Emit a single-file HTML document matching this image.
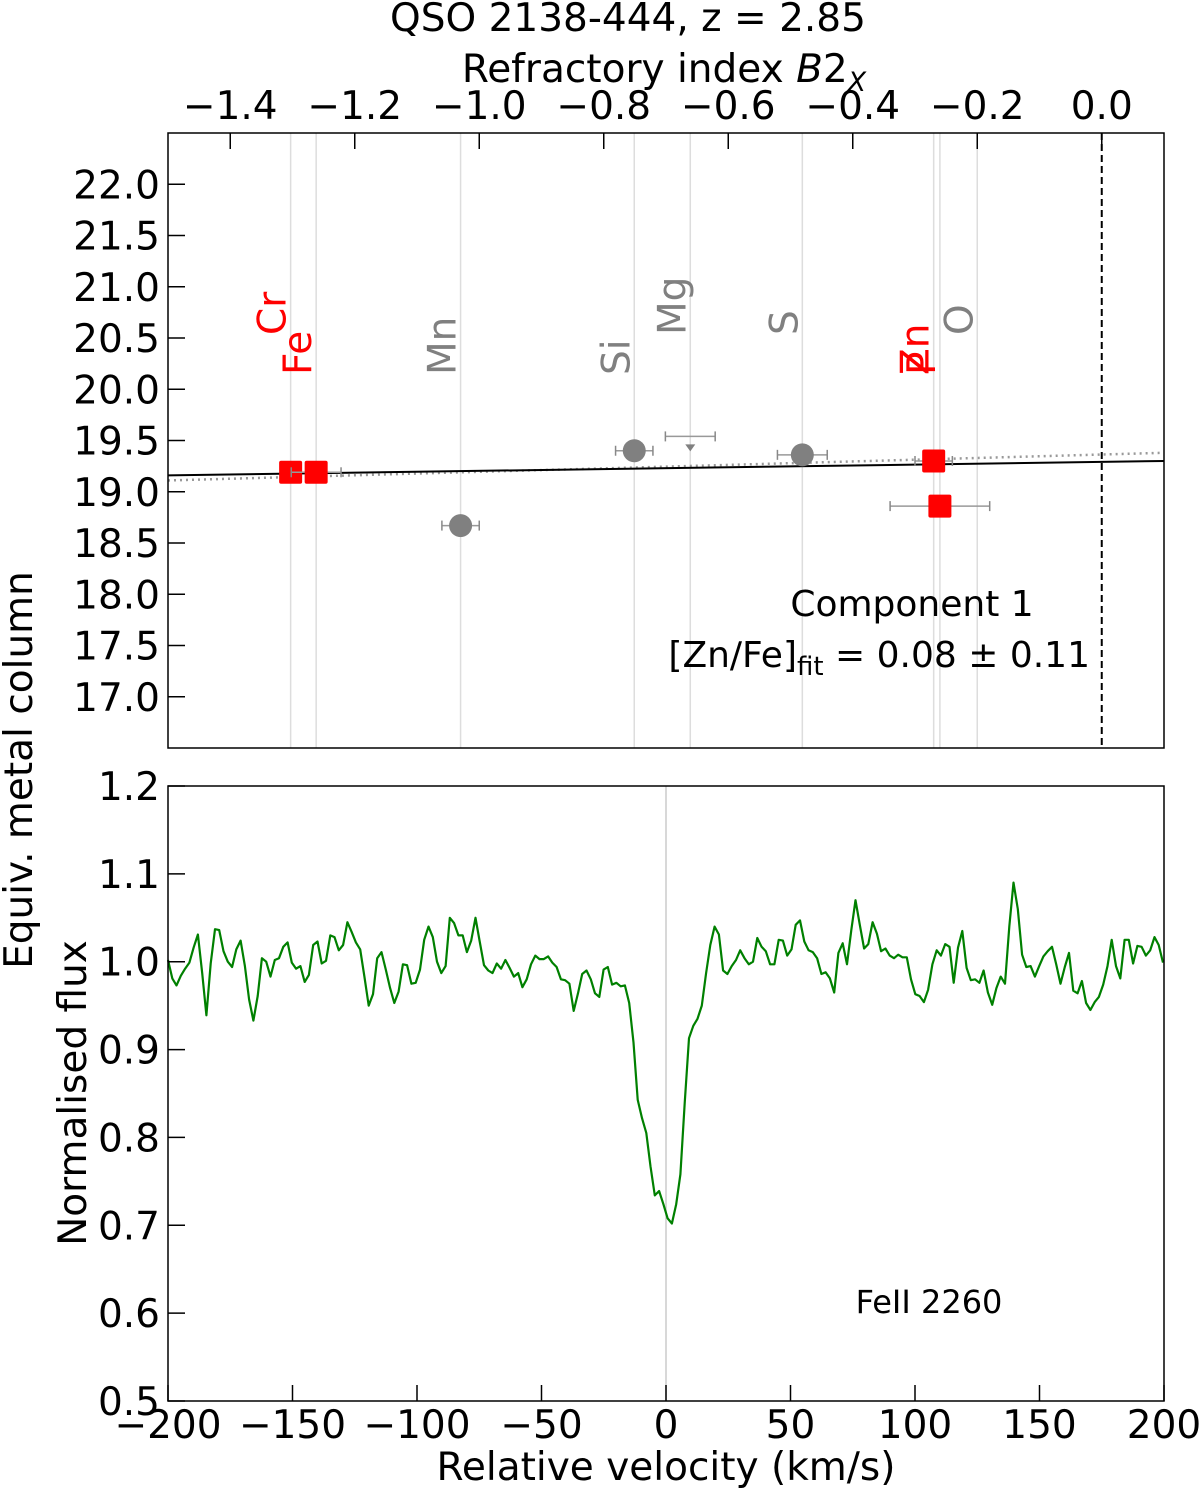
<!DOCTYPE html>
<html><head><meta charset="utf-8"><style>
html,body{margin:0;padding:0;background:#fff;}
svg{display:block;font-family:"DejaVu Sans","Liberation Sans",sans-serif;}
</style></head><body>
<svg id="chart" width="1200" height="1490" viewBox="0 0 1200 1490" xmlns="http://www.w3.org/2000/svg">
<text x="628" y="31" font-size="39" text-anchor="middle">QSO 2138-444, z = 2.85</text>
<text x="664" y="82" font-size="39" text-anchor="middle">Refractory index <tspan font-style="italic">B</tspan>2<tspan font-style="italic" font-size="27" dy="9">X</tspan></text>
<text transform="translate(32,770) rotate(-90)" font-size="39" text-anchor="middle">Equiv. metal column</text>
<text transform="translate(86,1093) rotate(-90)" font-size="39" text-anchor="middle">Normalised flux</text>
<text x="666" y="1480" font-size="39" text-anchor="middle">Relative velocity (km/s)</text>
<g id="topPanel"></g>
<g id="botPanel"></g>
</svg>
<script>
const NS="http://www.w3.org/2000/svg";
// ---- top panel data ----
const elements=["Cr","Fe","Mn","Si","Mg","S","Zn","P","O"];
const b2x=[-1.303,-1.262,-1.03,-0.751,-0.661,-0.481,-0.27,-0.26,-0.2];
const labelColors=["red","red","gray","gray","gray","gray","red","red","gray"];
const labelRow=[1,0,0,0,1,1,0,0,1];
const pointNames=["Cr","Fe","Mn","Si","Mg","S","Zn","P"];
const pointB2x=[-1.303,-1.262,-1.03,-0.751,-0.661,-0.481,-0.27,-0.26];
const pointN=[19.19,19.19,18.67,19.40,19.54,19.36,19.30,18.86];
const pointXerr=[0.0,0.04,0.03,0.03,0.04,0.04,0.03,0.08];
const pointKind=["square","square","circle","circle","limit","circle","square","square"];
const topXTicks=[-1.4,-1.2,-1.0,-0.8,-0.6,-0.4,-0.2,0.0];
const topYTicks=[17.0,17.5,18.0,18.5,19.0,19.5,20.0,20.5,21.0,21.5,22.0];
const fitLine=[[-1.5,19.16],[0.1,19.30]];
const dotLine=[[-1.5,19.11],[0.1,19.38]];
// ---- bottom panel data ----
const vStart=-200, vStep=1.715;
const flux=[1.002,0.981,0.973,0.984,0.992,0.999,1.016,1.031,0.987,0.939,0.998,1.037,1.036,1.012,1.000,0.994,1.014,1.024,0.995,0.957,0.933,0.961,1.004,1.000,0.983,1.002,1.004,1.017,1.022,0.999,0.992,0.995,0.977,0.985,1.019,1.023,0.998,1.001,1.030,1.028,1.013,1.019,1.045,1.034,1.022,1.014,0.983,0.950,0.963,1.004,1.011,0.991,0.970,0.953,0.966,0.997,0.996,0.975,0.976,0.991,1.025,1.040,1.028,1.000,0.987,0.995,1.050,1.044,1.030,1.030,1.011,1.024,1.050,1.023,0.996,0.990,0.987,0.998,0.992,1.002,
0.993,0.983,0.987,0.971,0.980,0.997,1.007,1.003,1.003,1.006,0.999,0.994,0.980,0.979,0.975,0.944,0.964,0.986,0.990,0.980,0.964,0.960,0.991,0.994,0.974,0.976,0.972,0.973,0.953,0.908,0.843,0.822,0.805,0.767,0.734,0.739,0.724,0.708,0.702,0.724,0.758,0.839,0.913,0.927,0.935,0.950,0.987,1.019,1.040,1.031,0.990,0.986,0.995,1.002,1.013,1.004,0.997,1.000,1.027,1.017,1.012,0.997,0.997,1.025,1.024,1.007,1.014,1.042,1.047,1.023,1.013,1.011,1.004,0.986,0.988,0.981,0.965,1.010,
1.021,0.997,1.036,1.070,1.042,1.015,1.020,1.045,1.032,1.012,1.015,1.007,1.004,1.008,1.005,1.005,0.980,0.963,0.961,0.954,0.968,0.997,1.013,1.007,1.020,1.017,0.976,1.016,1.035,0.993,0.979,0.980,0.976,0.990,0.965,0.951,0.970,0.983,0.975,1.040,1.090,1.060,1.008,0.994,0.995,0.983,0.995,1.006,1.012,1.017,0.997,0.975,0.994,1.010,0.967,0.964,0.978,0.953,0.945,0.954,0.960,0.974,0.995,1.025,0.995,0.981,1.025,1.025,0.998,1.018,1.017,1.007,1.013,1.028,1.019,0.999];
const botXTicks=[-200,-150,-100,-50,0,50,100,150,200];
const botYTicks=[0.5,0.6,0.7,0.8,0.9,1.0,1.1,1.2];
const lineLabel="FeII 2260";

function mk(parent,tag,attrs,txt){const e=document.createElementNS(NS,tag);for(const k in attrs)e.setAttribute(k,attrs[k]);if(txt!==undefined)e.textContent=txt;parent.appendChild(e);return e;}
const FS=39;
// top axes
const T={l:168,r:1164,t:133,b:748};
const tx=v=>T.l+(v-(-1.5))/(0.1-(-1.5))*(T.r-T.l);
const ty=v=>T.b-(v-16.5)/(22.5-16.5)*(T.b-T.t);
const topG=document.getElementById('topPanel');
elements.forEach((el,i)=>{
  const l=mk(topG,'line',{x1:tx(b2x[i]),x2:tx(b2x[i]),y1:T.t,y2:T.b,stroke:'#ddd','stroke-width':1.5});
  
  
  const yb=labelRow[i]?335:375;
  const t=mk(topG,'text',{transform:`translate(${tx(b2x[i])-5},${yb}) rotate(-90)`,'font-size':FS,fill:labelColors[i]},el);
  
  
});
const zl=mk(topG,'line',{x1:tx(0),x2:tx(0),y1:T.t,y2:T.b,stroke:'#000','stroke-width':2,'stroke-dasharray':'7,4'});


const dl=mk(topG,'line',{x1:tx(dotLine[0][0]),y1:ty(dotLine[0][1]),x2:tx(dotLine[1][0]),y2:ty(dotLine[1][1]),stroke:'#999','stroke-width':2.5,'stroke-dasharray':'2,4'});


const fl=mk(topG,'line',{x1:tx(fitLine[0][0]),y1:ty(fitLine[0][1]),x2:tx(fitLine[1][0]),y2:ty(fitLine[1][1]),stroke:'#000','stroke-width':2});


pointNames.forEach((n,i)=>{
  const g=mk(topG,'g',{});
  
  
  const x=tx(pointB2x[i]),y=ty(pointN[i]);
  if(pointXerr[i]>0){
    const x1=tx(pointB2x[i]-pointXerr[i]),x2=tx(pointB2x[i]+pointXerr[i]);
    mk(g,'line',{x1:x1,x2:x2,y1:y,y2:y,stroke:'#999','stroke-width':1.5});
    mk(g,'line',{x1:x1,x2:x1,y1:y-5,y2:y+5,stroke:'#888','stroke-width':1.5});
    mk(g,'line',{x1:x2,x2:x2,y1:y-5,y2:y+5,stroke:'#888','stroke-width':1.5});
  }
  if(pointKind[i]==='square')mk(g,'rect',{x:x-11.5,y:y-11.5,width:23,height:23,rx:2,fill:'red'});
  else if(pointKind[i]==='circle')mk(g,'circle',{cx:x,cy:y,r:11.5,fill:'#808080'});
  else mk(g,'path',{d:`M${x-5},${y+8}L${x+5},${y+8}L${x},${y+15}Z`,fill:'#808080'});
});
const tf=mk(topG,'rect',{x:T.l,y:T.t,width:T.r-T.l,height:T.b-T.t,fill:'none',stroke:'#000','stroke-width':1.5});


topXTicks.forEach(v=>{
  const x=tx(v);
  mk(topG,'line',{x1:x,x2:x,y1:T.t,y2:T.t+16,stroke:'#000','stroke-width':1.5});
  const t=mk(topG,'text',{x:x,y:119,'font-size':FS,'text-anchor':'middle'},(v<0?'\u2212':'')+Math.abs(v).toFixed(1));
  
  
});
topYTicks.forEach(v=>{
  const y=ty(v);
  mk(topG,'line',{x1:T.l,x2:T.l+17,y1:y,y2:y,stroke:'#000','stroke-width':1.5});
  const t=mk(topG,'text',{x:160,y:y+14,'font-size':FS,'text-anchor':'end'},v.toFixed(1));
  
  
});
const c1=mk(topG,'text',{x:912,y:616,'font-size':FS-3,'text-anchor':'middle'},'Component 1');


const c2=mk(topG,'text',{x:1090,y:667,'font-size':FS-3,'text-anchor':'end'});


const s1=mk(c2,'tspan',{},'[Zn/Fe]');
const s2=mk(c2,'tspan',{'font-size':26,dy:8},'fit');
const s3=mk(c2,'tspan',{dy:-8},' = 0.08 \u00b1 0.11');
// bottom axes
const B={l:168,r:1164,t:786,b:1401};
const bx=v=>B.l+(v+200)/400*(B.r-B.l);
const byy=v=>B.b-(v-0.5)/0.7*(B.b-B.t);
const botG=document.getElementById('botPanel');
const vl=mk(botG,'line',{x1:bx(0),x2:bx(0),y1:B.t,y2:B.b,stroke:'#ccc','stroke-width':1.5});


const pts=flux.map((f,i)=>bx(vStart+i*vStep).toFixed(1)+','+byy(f).toFixed(1)).join(' ');
const sp=mk(botG,'polyline',{points:pts,fill:'none',stroke:'green','stroke-width':2.2,'stroke-linejoin':'round'});


const bf=mk(botG,'rect',{x:B.l,y:B.t,width:B.r-B.l,height:B.b-B.t,fill:'none',stroke:'#000','stroke-width':1.5});


botXTicks.forEach(v=>{
  const x=bx(v);
  mk(botG,'line',{x1:x,x2:x,y1:B.b,y2:B.b-16,stroke:'#000','stroke-width':1.5});
  const t=mk(botG,'text',{x:x,y:1438,'font-size':FS,'text-anchor':'middle'},(v<0?'\u2212':'')+Math.abs(v));
  
  
});
botYTicks.forEach(v=>{
  const y=byy(v);
  mk(botG,'line',{x1:B.l,x2:B.l+17,y1:y,y2:y,stroke:'#000','stroke-width':1.5});
  const t=mk(botG,'text',{x:160,y:y+14,'font-size':FS,'text-anchor':'end'},v.toFixed(1));
  
  
});
const ll=mk(botG,'text',{x:929,y:1313,'font-size':32,'text-anchor':'middle'},lineLabel);


</script>
</body></html>
